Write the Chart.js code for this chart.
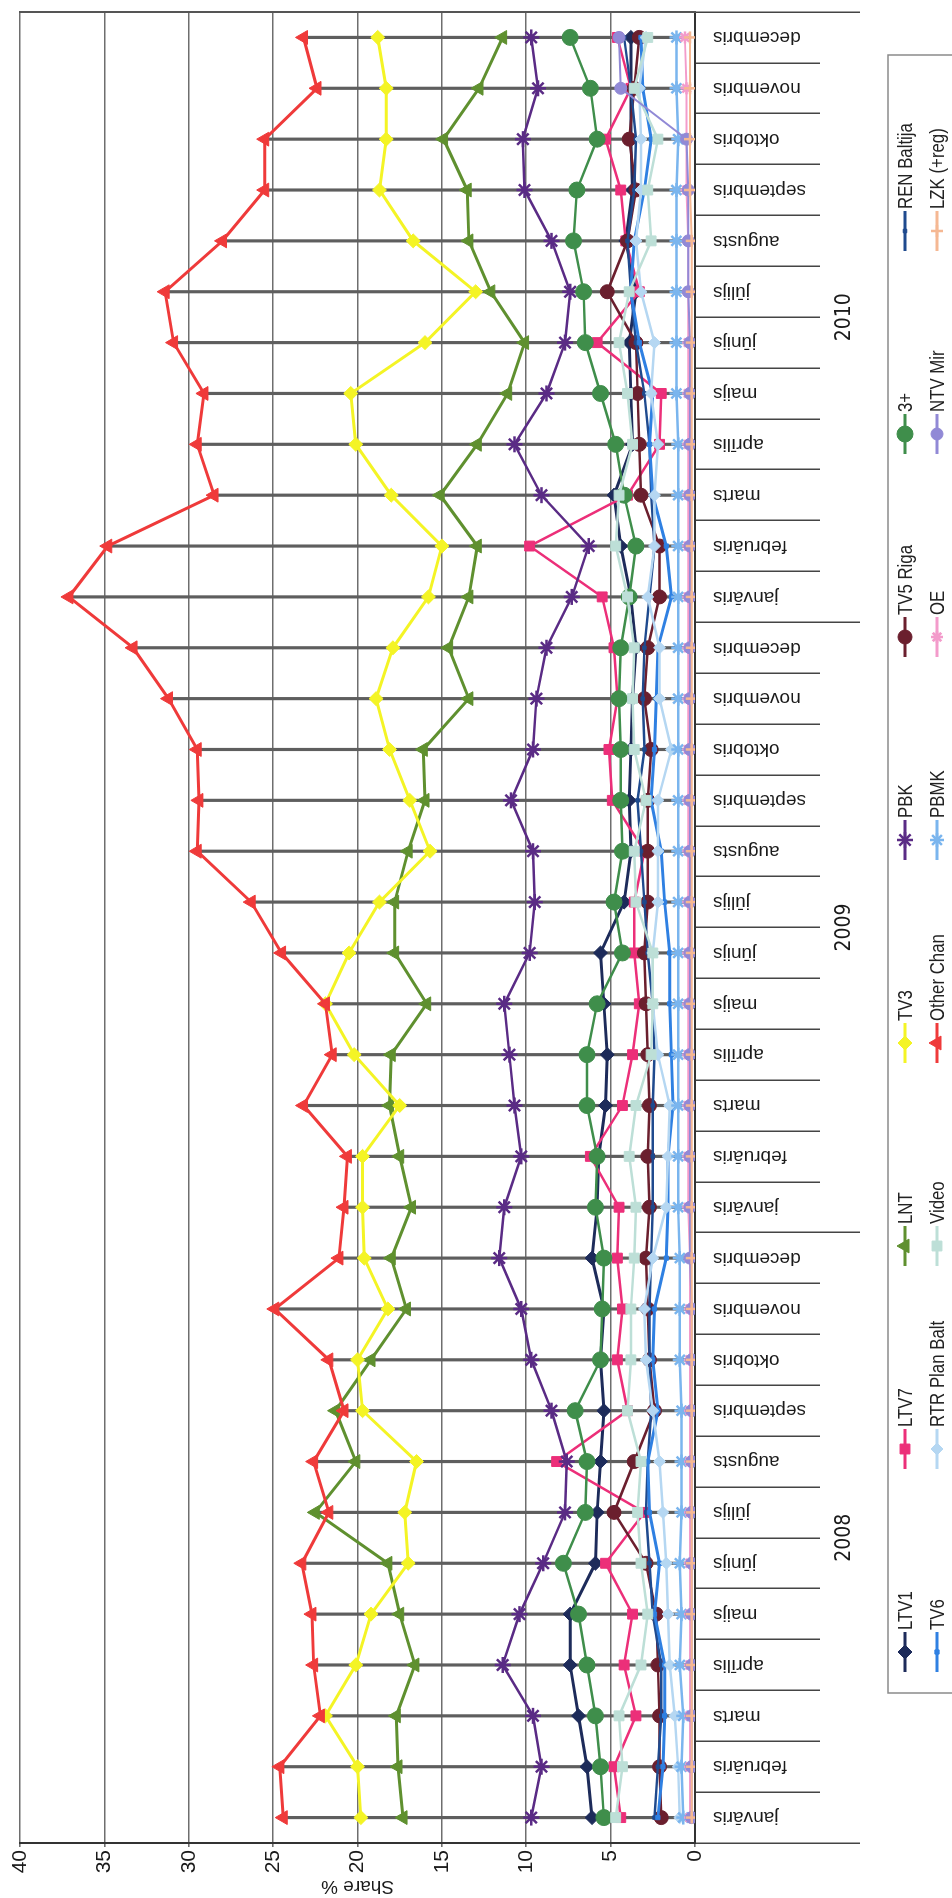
<!DOCTYPE html>
<html>
<head>
<meta charset="utf-8">
<script src="https://cdn.jsdelivr.net/npm/chart.js@4.4.0/dist/chart.umd.min.js"></script>
<style>
  html, body { margin: 0; padding: 0; background: #fff; overflow: hidden; }
  /* chart is drawn landscape, then turned a quarter left like the scan */
  #wrap {
    position: absolute; left: 0; top: 0;
    width: 1898px; height: 952px;
    transform-origin: 0 0;
    transform: translate(0, 1898px) rotate(-90deg);
  }
</style>
</head>
<body>
<div id="wrap"><canvas id="tvShare" width="1898" height="952"></canvas></div>
<script>
// --- data (share %, jan 2008 .. dec 2010) ---
const months = ["janvāris", "februāris", "marts", "aprīlis", "maijs", "jūnijs",
  "jūlijs", "augusts", "septembris", "oktobris", "novembris", "decembris"];
const years = ["2008", "2009", "2010"];
const monthLabels = [...months, ...months, ...months];
const yTicks = [0, 5, 10, 15, 20, 25, 30, 35, 40];

const ltv1 = [6.1, 6.4, 6.9, 7.4, 7.4, 5.9, 5.8, 5.6, 5.4, 5.6, 5.4, 6.1,
  5.8, 5.7, 5.3, 5.2, 5.4, 5.6, 4.2, 3.8, 3.9, 3.8, 3.7, 3.5,
  3.8, 4.4, 4.8, 3.7, 3.8, 3.9, 3.5, 4.1, 3.7, 3.8, 3.8, 3.8];
const ltv7 = [4.4, 4.8, 3.5, 4.2, 3.7, 5.3, 3.0, 8.2, 4.0, 4.6, 4.3, 4.6,
  4.5, 6.2, 4.3, 3.7, 3.3, 3.6, 3.6, 3.0, 4.9, 5.1, 4.6, 4.8,
  5.5, 9.8, 4.0, 2.1, 2.0, 5.8, 3.3, 4.1, 4.4, 5.3, 3.8, 4.6];
const lnt = [17.3, 17.6, 17.7, 16.6, 17.5, 18.2, 22.5, 20.1, 21.3, 19.2, 17.1, 18.0,
  16.8, 17.5, 18.1, 18.0, 15.9, 17.8, 17.8, 17.0, 16.0, 16.1, 13.4, 14.6,
  13.4, 12.9, 15.1, 12.9, 11.1, 10.1, 12.1, 13.4, 13.5, 14.9, 12.8, 11.4];
const tv3 = [19.8, 20.0, 21.9, 20.1, 19.2, 17.0, 17.2, 16.5, 19.7, 20.0, 18.2, 19.6,
  19.7, 19.7, 17.5, 20.2, 21.9, 20.5, 18.7, 15.7, 16.9, 18.1, 18.9, 17.9,
  15.8, 15.0, 18.0, 20.1, 20.4, 16.0, 13.0, 16.7, 18.7, 18.3, 18.3, 18.8];
const pbk = [9.7, 9.1, 9.6, 11.4, 10.4, 9.0, 7.7, 7.6, 8.5, 9.7, 10.3, 11.6,
  11.3, 10.3, 10.7, 11.0, 11.3, 9.8, 9.5, 9.6, 10.9, 9.6, 9.4, 8.8,
  7.3, 6.3, 9.1, 10.7, 8.8, 7.7, 7.4, 8.5, 10.1, 10.2, 9.3, 9.7];
const tv5Riga = [2.0, 2.1, 2.1, 2.2, 2.3, 2.9, 4.8, 3.6, 2.4, 2.7, 2.8, 2.9,
  2.7, 2.8, 2.7, 2.8, 2.9, 3.0, 2.8, 2.8, 2.8, 2.6, 3.0, 2.8,
  2.1, 2.1, 3.2, 3.3, 3.4, 3.5, 5.2, 4.0, 3.5, 3.9, 3.6, 3.3];
const threePlus = [5.4, 5.6, 5.9, 6.4, 6.9, 7.8, 6.5, 6.4, 7.1, 5.6, 5.5, 5.4,
  5.9, 5.8, 6.4, 6.4, 5.8, 4.3, 4.8, 4.3, 4.4, 4.4, 4.5, 4.4,
  3.9, 3.5, 4.2, 4.7, 5.6, 6.5, 6.6, 7.2, 7.0, 5.8, 6.2, 7.4];
const renBaltija = [2.4, 2.2, 2.0, 2.0, 2.5, 2.7, 2.9, 2.8, 2.6, 2.7, 2.7, 2.6,
  2.5, 2.5, 2.5, 2.4, 2.5, 2.8, 3.0, 3.2, 3.4, 3.0, 3.1, 3.0,
  2.7, 2.4, 2.6, 2.7, 3.0, 3.5, 3.8, 4.0, 3.6, 3.5, 3.8, 4.2];
const tv6 = [2.2, 1.9, 1.8, 1.8, 2.4, 2.1, 2.7, 2.8, 2.2, 2.5, 2.4, 1.7,
  1.6, 1.6, 1.3, 1.4, 1.5, 1.5, 1.8, 2.0, 2.6, 2.4, 2.3, 2.2,
  1.4, 1.7, 2.5, 2.7, 2.5, 3.3, 3.8, 3.6, 3.0, 2.6, 3.1, 3.2];
const rtrPlanBalt = [0.9, 1.0, 1.2, 1.5, 1.6, 1.7, 1.9, 2.1, 2.5, 2.9, 3.0, 2.5,
  1.7, 1.6, 1.5, 2.2, 2.5, 2.5, 2.2, 2.2, 2.2, 1.4, 2.1, 2.1,
  2.8, 2.4, 2.4, 2.2, 2.6, 2.4, 3.2, 3.5, 3.2, 3.2, 3.3, 2.9];
const video = [4.7, 4.3, 4.5, 3.2, 2.8, 3.2, 3.4, 3.2, 4.0, 3.8, 3.8, 3.6,
  3.5, 3.9, 3.5, 2.6, 2.5, 2.5, 3.5, 3.6, 2.9, 3.6, 3.7, 3.6,
  4.0, 4.7, 4.5, 3.7, 4.0, 4.5, 3.9, 2.6, 2.8, 2.2, 3.6, 2.8];
const otherChan = [24.4, 24.6, 22.2, 22.6, 22.7, 23.3, 21.7, 22.6, 20.8, 21.7, 24.9, 21.1,
  20.8, 20.6, 23.2, 21.5, 21.9, 24.5, 26.3, 29.5, 29.4, 29.5, 31.2, 33.3,
  37.1, 34.8, 28.5, 29.5, 29.1, 30.9, 31.4, 28.0, 25.5, 25.5, 22.4, 23.2];
const pbmk = [0.7, 0.8, 0.7, 0.9, 0.8, 0.9, 0.8, 0.8, 0.8, 0.9, 0.9, 0.9,
  1.0, 1.0, 1.0, 1.0, 1.0, 1.0, 1.0, 1.0, 1.0, 1.0, 1.0, 1.0,
  1.0, 1.0, 1.0, 1.0, 1.1, 1.1, 1.1, 1.1, 1.1, 1.0, 1.1, 1.1];
const oe = [0.3, 0.3, 0.3, 0.3, 0.3, 0.3, 0.3, 0.3, 0.3, 0.3, 0.3, 0.3,
  0.4, 0.4, 0.4, 0.4, 0.4, 0.4, 0.4, 0.4, 0.4, 0.4, 0.4, 0.4,
  0.4, 0.4, 0.4, 0.4, 0.4, 0.4, 0.4, 0.4, 0.5, 0.5, 0.5, 0.6];
const ntvMir = [0.2, 0.2, 0.2, 0.2, 0.2, 0.2, 0.2, 0.2, 0.2, 0.2, 0.2, 0.3,
  0.3, 0.3, 0.3, 0.3, 0.3, 0.3, 0.3, 0.3, 0.3, 0.3, 0.3, 0.3,
  0.3, 0.3, 0.3, 0.3, 0.3, 0.3, 0.4, 0.4, 0.4, 0.5, 4.4, 4.5];
const lzk = [0.2, 0.2, 0.2, 0.2, 0.2, 0.2, 0.2, 0.2, 0.2, 0.2, 0.2, 0.2,
  0.2, 0.2, 0.2, 0.2, 0.2, 0.2, 0.2, 0.2, 0.2, 0.2, 0.2, 0.2,
  0.2, 0.2, 0.2, 0.2, 0.2, 0.2, 0.2, 0.2, 0.3, 0.3, 0.3, 0.3];

// legend order: two rows of eight
const series = [
  { name: "LTV1", data: ltv1, color: "#1d2b5a", style: "rectRot", r: 7, w: 3 },
  { name: "LTV7", data: ltv7, color: "#ec2f79", style: "rect", r: 7, w: 2.5 },
  { name: "LNT", data: lnt, color: "#5f902f", style: "triangle", r: 8, w: 3 },
  { name: "TV3", data: tv3, color: "#f4f425", style: "rectRot", r: 7, w: 3 },
  { name: "PBK", data: pbk, color: "#5a2b85", style: "star", r: 8, w: 2.5 },
  { name: "TV5 Riga", data: tv5Riga, color: "#6b1f2e", style: "circle", r: 7, w: 2.5 },
  { name: "3+", data: threePlus, color: "#3f8e4b", style: "circle", r: 8, w: 2.5 },
  { name: "REN Baltija", data: renBaltija, color: "#1f4a8e", style: "rect", r: 2.5, w: 2.5 },
  { name: "TV6", data: tv6, color: "#2f80e2", style: "rect", r: 3, w: 3 },
  { name: "RTR Plan Balt", data: rtrPlanBalt, color: "#b5d7f2", style: "rectRot", r: 6, w: 2.5 },
  { name: "Video", data: video, color: "#bddfd7", style: "rect", r: 7, w: 2.5 },
  { name: "Other Chan", data: otherChan, color: "#ef3a3a", style: "triangle", r: 8, w: 3 },
  { name: "PBMK", data: pbmk, color: "#7ab5ee", style: "star", r: 7, w: 2.5 },
  { name: "OE", data: oe, color: "#f39bcb", style: "star", r: 6, w: 2 },
  { name: "NTV Mir", data: ntvMir, color: "#9189d6", style: "circle", r: 6, w: 2 },
  { name: "LZK (+reg)", data: lzk, color: "#f5b893", style: "cross", r: 6, w: 2 },
];

// high-low line per month (Excel style)
const hiLo = monthLabels.map((_, i) => {
  const vals = series.map(s => s.data[i]);
  return [Math.min(...vals), Math.max(...vals)];
});

const lineSets = series.map((s, i) => ({
  type: "line",
  label: s.name,
  data: s.data,
  borderColor: s.color,
  backgroundColor: s.color,
  borderWidth: s.w,
  pointStyle: s.style,
  pointRadius: s.r,
  pointBorderWidth: (s.style === "star" || s.style === "cross") ? 2.5 : 1,
  pointBackgroundColor: s.color,
  pointBorderColor: s.color,
  tension: 0,
  order: 20 - i,
}));

// legend drawn in a fixed 8 x 2 grid like the original
const legendGrid = {
  id: "legendGrid",
  afterDraw(chart) {
    const ctx = chart.ctx;
    ctx.save();
    ctx.strokeStyle = "#8a8a8a";
    ctx.lineWidth = 1.5;
    ctx.strokeRect(205, 888, 1638, 80);
    ctx.font = "21px 'Liberation Sans', Arial, sans-serif";
    ctx.textBaseline = "middle";
    series.forEach((s, i) => {
      const x = 226 + (i % 8) * 203;
      const y = i < 8 ? 905 : 937;
      ctx.strokeStyle = s.color;
      ctx.fillStyle = s.color;
      ctx.lineWidth = 3;
      ctx.beginPath();
      ctx.moveTo(x, y);
      ctx.lineTo(x + 40, y);
      ctx.stroke();
      ctx.lineWidth = (s.style === "star" || s.style === "cross") ? 2.5 : 1;
      Chart.helpers.drawPoint(ctx, { pointStyle: s.style, rotation: 0, radius: s.r, borderWidth: ctx.lineWidth }, x + 20, y);
      // narrow face like the scan
      ctx.save();
      ctx.translate(x + 42, y + 1);
      ctx.scale(0.8, 1);
      ctx.fillStyle = "#222";
      ctx.fillText(s.name, 0, 0);
      ctx.restore();
    });
    ctx.restore();
  },
};

const whiteBg = {
  id: "whiteBg",
  beforeDraw(chart) {
    const ctx = chart.ctx;
    ctx.save();
    ctx.fillStyle = "#fff";
    ctx.fillRect(0, 0, chart.width, chart.height);
    ctx.restore();
  },
};

const sans = "'Liberation Sans', Arial, sans-serif";

new Chart(document.getElementById("tvShare"), {
  type: "line",
  data: {
    labels: monthLabels,
    datasets: [
      {
        type: "bar",
        label: "hi-lo",
        data: hiLo,
        backgroundColor: "#5e5e5e",
        barThickness: 2.5,
        order: 99,
      },
      ...lineSets,
    ],
  },
  options: {
    responsive: false,
    animation: false,
    layout: { padding: { top: 20, right: 12, left: 0, bottom: 92 } },
    plugins: { legend: { display: false }, tooltip: { enabled: false } },
    scales: {
      x: {
        type: "category",
        offset: true,
        weight: 0,
        grid: { offset: true, drawOnChartArea: false, tickLength: 125, color: "#444", lineWidth: 1.5 },
        border: { display: true, color: "#333", width: 2 },
        ticks: {
          autoSkip: false, minRotation: 90, maxRotation: 90, padding: -107,
          color: "#1a1a1a", font: { size: 19, family: sans },
        },
        afterFit(scale) { scale.height = 125; },
      },
      x2: {
        type: "category",
        labels: years,
        position: "bottom",
        offset: true,
        weight: 1,
        grid: { offset: true, drawOnChartArea: false, tickLength: 40, color: "#444", lineWidth: 1.5 },
        border: { display: false },
        ticks: {
          minRotation: 0, maxRotation: 0, padding: -28,
          color: "#1a1a1a", font: { size: 21, family: "'DejaVu Sans Condensed', " + sans },
        },
        afterFit(scale) { scale.height = 40; },
      },
      y: {
        min: 0,
        max: 40,
        afterBuildTicks(scale) { scale.ticks = yTicks.map(v => ({ value: v })); },
        grid: { color: "#6e6e6e", lineWidth: 1.6, tickLength: 4 },
        border: { display: true, color: "#333", width: 2 },
        ticks: { padding: 3, color: "#1a1a1a", font: { size: 21, family: sans } },
        title: { display: true, text: "Share %", color: "#1a1a1a", padding: 0, font: { size: 19, family: sans } },
        afterFit(scale) { scale.width = 55; },
      },
      y2: {
        position: "right",
        min: 0,
        max: 40,
        grid: { display: false },
        ticks: { display: false },
        border: { display: true, color: "#555", width: 2 },
        afterFit(scale) { scale.width = 0; },
      },
    },
  },
  plugins: [whiteBg, legendGrid],
});
</script>
</body>
</html>
